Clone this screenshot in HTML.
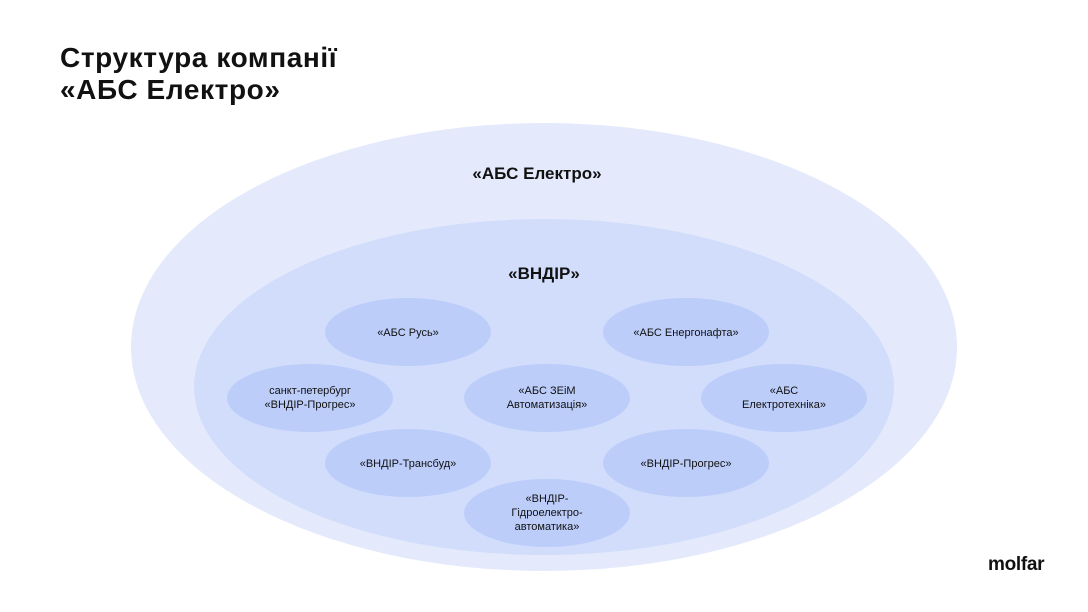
<!DOCTYPE html>
<html><head><meta charset="utf-8"><style>
body{margin:0;width:1088px;height:612px;background:#fff;overflow:hidden;font-family:"Liberation Sans","DejaVu Sans",sans-serif;}
h1{position:absolute;left:60px;top:42px;margin:0;font-size:28px;line-height:32px;font-weight:bold;color:#111;letter-spacing:0.6px}
svg{position:absolute;left:0;top:0}
.logo{position:absolute;left:988px;top:554px;font-size:19px;font-weight:bold;color:#111;letter-spacing:-0.3px}
</style></head><body>
<h1>Структура компанії<br>«АБС Електро»</h1>
<svg width="1088" height="612" font-family="Liberation Sans, DejaVu Sans, sans-serif">
<ellipse cx="544" cy="347" rx="413" ry="224" fill="#e4eafc"/>
<ellipse cx="544" cy="387" rx="350" ry="168" fill="#d1ddfb"/>
<g fill="#bccdfa">
<ellipse cx="408" cy="332" rx="83" ry="34"/>
<ellipse cx="686" cy="332" rx="83" ry="34"/>
<ellipse cx="310" cy="398" rx="83" ry="34"/>
<ellipse cx="547" cy="398" rx="83" ry="34"/>
<ellipse cx="784" cy="398" rx="83" ry="34"/>
<ellipse cx="408" cy="463" rx="83" ry="34"/>
<ellipse cx="686" cy="463" rx="83" ry="34"/>
<ellipse cx="547" cy="513" rx="83" ry="34"/>
</g>
<g text-anchor="middle" fill="#111">
<text x="537" y="179" font-size="17" font-weight="bold">«АБС Електро»</text>
<text x="544" y="279" font-size="17" font-weight="bold">«ВНДІР»</text>
<g font-size="11">
<text x="408" y="336">«АБС Русь»</text>
<text x="686" y="336">«АБС Енергонафта»</text>
<text x="310" y="394">санкт-петербург</text>
<text x="310" y="408">«ВНДІР-Прогрес»</text>
<text x="547" y="394">«АБС ЗЕіМ</text>
<text x="547" y="408">Автоматизація»</text>
<text x="784" y="394">«АБС</text>
<text x="784" y="408">Електротехніка»</text>
<text x="408" y="467">«ВНДІР-Трансбуд»</text>
<text x="686" y="467">«ВНДІР-Прогрес»</text>
<text x="547" y="502">«ВНДІР-</text>
<text x="547" y="516">Гідроелектро-</text>
<text x="547" y="530">автоматика»</text>
</g></g>
</svg>
<div class="logo">molfar</div>
</body></html>
